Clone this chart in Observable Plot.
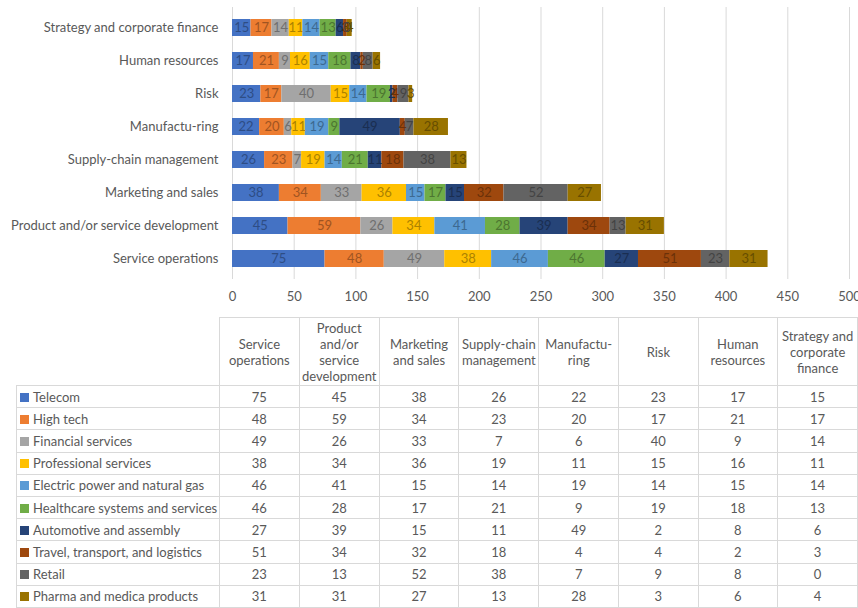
<!DOCTYPE html>
<html>
<head>
<meta charset="utf-8">
<script src="https://cdn.jsdelivr.net/npm/d3@7"></script>
<script src="https://cdn.jsdelivr.net/npm/@observablehq/plot@0.6"></script>
<style>
  html, body { margin: 0; padding: 0; background: #fff; }
  #wrap { position: relative; width: 858px; height: 608px; overflow: hidden; font-family: Lato, "Open Sans", sans-serif; color: #595959; }
  #chart { position: absolute; left: 0; top: 0; }
  table { position: absolute; left: 16px; top: 317px; border-collapse: collapse; table-layout: fixed; font-size: 13px; color: #595959; }
  td, th { border: 1px solid #d9d9d9; padding: 0; font-weight: normal; text-align: center; vertical-align: middle; line-height: 16px; }
  th { height: 67px; }
  td { height: 21.2px; }
  td.lab { text-align: left; padding-left: 3px; white-space: nowrap; }
  th.blank { border: none; }
  .sw { display: inline-block; width: 9px; height: 9px; margin-right: 4px; vertical-align: 0px; }
</style>
</head>
<body>
<div id="wrap">
  <div id="chart"></div>
  <table id="tbl"></table>
</div>
<script>
// Business functions (chart rows / table columns)
const functions = ["Service operations", "Product and/or service development", "Marketing and sales", "Supply-chain management", "Manufactu-ring", "Risk", "Human resources", "Strategy and corporate finance"];
// Industries (stack series, in stacking order)
const industries = ["Telecom", "High tech", "Financial services", "Professional services", "Electric power and natural gas", "Healthcare systems and services", "Automotive and assembly", "Travel, transport, and logistics", "Retail", "Pharma and medica products"];
const colors = ["#4472C4", "#ED7D31", "#A5A5A5", "#FFC000", "#5B9BD5", "#70AD47", "#264478", "#9E480E", "#636363", "#997300"];

// Values per industry, in the order of `functions`
const telecom      = [75, 45, 38, 26, 22, 23, 17, 15];
const highTech     = [48, 59, 34, 23, 20, 17, 21, 17];
const financial    = [49, 26, 33, 7, 6, 40, 9, 14];
const professional = [38, 34, 36, 19, 11, 15, 16, 11];
const electric     = [46, 41, 15, 14, 19, 14, 15, 14];
const healthcare   = [46, 28, 17, 21, 9, 19, 18, 13];
const automotive   = [27, 39, 15, 11, 49, 2, 8, 6];
const travel       = [51, 34, 32, 18, 4, 4, 2, 3];
const retail       = [23, 13, 52, 38, 7, 9, 8, 0];
const pharma       = [31, 31, 27, 13, 28, 3, 6, 4];
const seriesValues = [telecom, highTech, financial, professional, electric, healthcare, automotive, travel, retail, pharma];

const xTicks = [0, 50, 100, 150, 200, 250, 300, 350, 400, 450, 500];

const data = [];
industries.forEach((ind, i) => functions.forEach((f, j) => data.push({industry: ind, fn: f, value: seriesValues[i][j]})));

const yOrder = functions.slice().reverse();

const textMarks = industries.map((ind, i) =>
  Plot.text(data, Plot.filter(d => d.industry === ind, Plot.stackX({
    x: "value", y: "fn", z: "industry", order: industries,
    text: d => String(d.value),
    fill: d3.color(colors[i]).darker(1.1).formatHex(),
    fontSize: 13
  })))
);

const chart = Plot.plot({
  width: 858,
  height: 310,
  marginLeft: 232,
  marginRight: 9,
  marginTop: 7,
  marginBottom: 31,
  style: {fontFamily: "Lato, 'Open Sans', sans-serif", fontSize: "13px", color: "#595959", background: "#fff"},
  x: {domain: [0, 500], label: null},
  y: {domain: yOrder, label: null, paddingInner: 0.47, paddingOuter: 0.24},
  color: {domain: industries, range: colors},
  marks: [
    Plot.gridX(xTicks, {stroke: "#d9d9d9", strokeOpacity: 1}),
    Plot.barX(data, Plot.stackX({x: "value", y: "fn", fill: "industry", z: "industry", order: industries})),
    ...textMarks,
    Plot.axisX({ticks: xTicks, tickSize: 0, tickPadding: 12, label: null, fontSize: 13}),
    Plot.axisY({tickSize: 0, tickPadding: 14, label: null, fontSize: 13})
  ]
});
document.getElementById("chart").appendChild(chart);

// Data table
const tbl = document.getElementById("tbl");
const colg = document.createElement("colgroup");
[203, 80, 80, 80, 80, 80, 80, 80, 80].forEach(w => { const c = document.createElement("col"); c.style.width = w + "px"; colg.appendChild(c); });
tbl.appendChild(colg);
const hr = document.createElement("tr");
const blank = document.createElement("th"); blank.className = "blank"; hr.appendChild(blank);
const headerLabels = ["Service operations", "Product and/or service development", "Marketing and sales", "Supply-chain management", "Manufactu-\nring", "Risk", "Human resources", "Strategy and corporate finance"];
headerLabels.forEach(h => { const th = document.createElement("th"); th.style.whiteSpace = "pre-line"; th.textContent = h; hr.appendChild(th); });
tbl.appendChild(hr);
industries.forEach((ind, i) => {
  const tr = document.createElement("tr");
  const td = document.createElement("td"); td.className = "lab";
  const sw = document.createElement("span"); sw.className = "sw"; sw.style.background = colors[i];
  td.appendChild(sw); td.appendChild(document.createTextNode(ind));
  tr.appendChild(td);
  seriesValues[i].forEach(v => { const c = document.createElement("td"); c.textContent = v; tr.appendChild(c); });
  tbl.appendChild(tr);
});
</script>
</body>
</html>
